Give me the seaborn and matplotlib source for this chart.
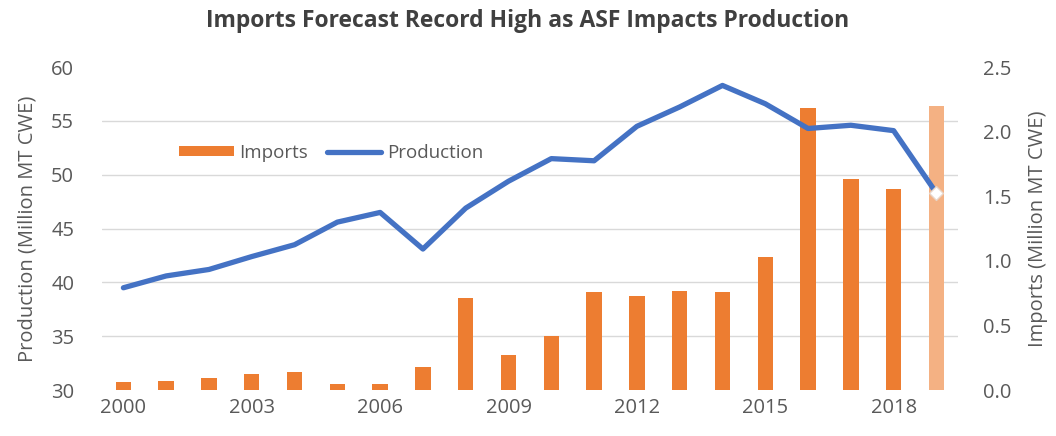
import matplotlib.pyplot as plt
import seaborn as sns
from matplotlib.lines import Line2D
from matplotlib.patches import Patch
from matplotlib.ticker import FixedLocator

# Data (2019 = forecast)
years = list(range(2000, 2020))
production = [39.5, 40.6, 41.2, 42.4, 43.5, 45.6, 46.5, 43.1, 46.9, 49.4,
              51.5, 51.3, 54.5, 56.3, 58.3, 56.6, 54.3, 54.6, 54.1, 48.3]
imports = [0.06, 0.07, 0.09, 0.125, 0.14, 0.05, 0.05, 0.18, 0.71, 0.27,
           0.42, 0.76, 0.73, 0.77, 0.76, 1.03, 2.18, 1.63, 1.56, 2.20]
xtick_years = [2000, 2003, 2006, 2009, 2012, 2015, 2018]
left_ticks = [30, 35, 40, 45, 50, 55, 60]
right_ticks = [0.0, 0.5, 1.0, 1.5, 2.0, 2.5]

ORANGE = "#ED7D31"
ORANGE_LIGHT = "#F4B183"
BLUE = "#4472C4"
GREY = "#595959"

sns.set_theme(style="white")
plt.rcParams["font.family"] = ["Open Sans", "DejaVu Sans"]

fig, ax1 = plt.subplots(figsize=(10.56, 4.36), dpi=100)
fig.subplots_adjust(left=0.0966, right=0.907, bottom=0.1055, top=0.846)
ax2 = ax1.twinx()

# bars on the right axis, kept underneath the production line
ax1.set_zorder(ax2.get_zorder() + 1)
ax1.patch.set_visible(False)

sns.barplot(x=years, y=imports, native_scale=True, color=ORANGE, width=0.36,
            saturation=1, ax=ax2)
ax2.patches[-1].set_facecolor(ORANGE_LIGHT)
for p in ax2.patches:
    p.set_edgecolor("none")

sns.lineplot(x=years, y=production, color=BLUE, linewidth=3.8, ax=ax1)
ax1.scatter([years[-1]], [production[-1]], marker="D", s=50, color="white",
            edgecolor="#E8D5C8", linewidth=1, zorder=5)

# limits
ax1.set_xlim(1999.5, 2019.5)
ax1.set_ylim(30, 60)
ax2.set_ylim(0, 2.5)

# gridlines follow the left axis but are drawn behind the bars
ax2.yaxis.set_minor_locator(FixedLocator([(v - 30) / 12 for v in left_ticks]))
ax2.grid(axis="y", which="minor", color="#D9D9D9", linewidth=1)
ax2.grid(axis="y", which="major", visible=False)
ax2.set_axisbelow(True)
ax2.tick_params(which="minor", length=0)

ax1.set_xticks(xtick_years)
ax1.set_yticks(left_ticks)
ax2.set_yticks(right_ticks)
ax2.set_yticklabels([f"{v:.1f}" for v in right_ticks])
ax1.tick_params(axis="x", labelsize=14.5, colors=GREY, length=0, pad=6)
ax1.tick_params(axis="y", labelsize=14.5, colors=GREY, length=0, pad=20)
ax2.tick_params(axis="y", labelsize=14.5, colors=GREY, length=0, pad=18)

for a in (ax1, ax2):
    for s in a.spines.values():
        s.set_visible(False)

ax1.set_ylabel("Production (Million MT CWE)", fontsize=14.5, color=GREY, labelpad=10)
ax2.set_ylabel("Imports (Million MT CWE)", fontsize=14.5, color=GREY, labelpad=12)

fig.text(0.5, 0.952, "Imports Forecast Record High as ASF Impacts Production",
         ha="center", va="center", fontsize=16.5, fontweight="bold", color="#404040")

handles = [Patch(facecolor=ORANGE, edgecolor="none"),
           Line2D([0], [0], color=BLUE, linewidth=3.8)]
ax1.legend(handles, ["Imports", "Production"], loc="center", ncol=2,
           bbox_to_anchor=(0.268, 0.735), frameon=False, fontsize=13.5,
           labelcolor=GREY, handlelength=2.9, handleheight=0.5,
           columnspacing=1.0, handletextpad=0.3)

fig.savefig("out.png", dpi=100)
